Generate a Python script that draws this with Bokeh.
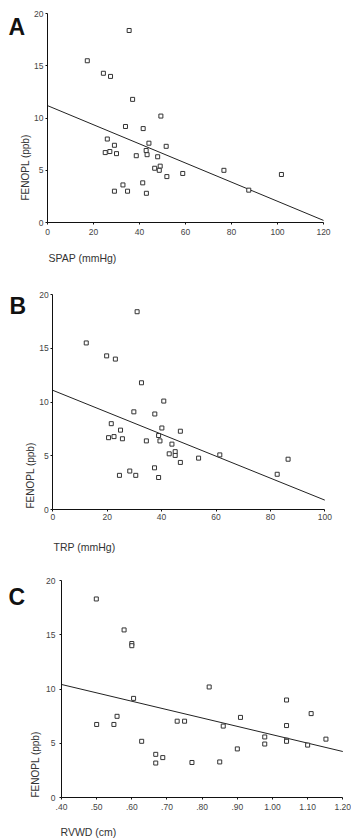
from bokeh.plotting import figure
from bokeh.layouts import column
from bokeh.models import Range1d, FixedTicker, Label
from bokeh.embed import file_html
from bokeh.resources import INLINE
import math

# ---------------- data ----------------
y_ticks = [0, 5, 10, 15, 20]

# Panel A: SPAP (mmHg) vs FENOPL (ppb)
a_x = [17.3, 35.5, 24.3, 27.4, 37.0, 49.3, 33.9, 41.6, 26.0, 44.1, 29.1, 51.6,
       25.1, 27.1, 30.0, 38.6, 42.9, 43.3, 47.9, 46.6, 49.0, 48.6, 51.9, 32.8,
       41.4, 29.1, 34.8, 43.0, 58.8, 76.7, 87.5, 101.7]
a_y = [15.5, 18.4, 14.3, 14.0, 11.8, 10.2, 9.2, 9.0, 8.0, 7.6, 7.4, 7.3,
       6.7, 6.8, 6.6, 6.4, 6.9, 6.5, 6.3, 5.2, 5.4, 5.0, 4.4, 3.6,
       3.8, 3.0, 3.0, 2.8, 4.7, 5.0, 3.1, 4.6]
a_fit_x = [0, 120]
a_fit_y = [11.2, 0.2]
a_xticks = [0, 20, 40, 60, 80, 100, 120]

# Panel B: TRP (mmHg) vs FENOPL (ppb)
b_x = [12.3, 31.0, 19.8, 23.0, 32.6, 40.8, 29.8, 37.5, 21.5, 24.9, 40.1, 20.5,
       22.5, 25.6, 34.4, 38.9, 39.4, 43.8, 42.8, 45.0, 45.0, 24.5, 28.3, 30.5,
       37.4, 38.9, 46.9, 46.9, 53.6, 61.4, 82.5, 86.5]
b_y = [15.5, 18.4, 14.3, 14.0, 11.8, 10.1, 9.1, 8.9, 8.0, 7.4, 7.6, 6.7,
       6.8, 6.6, 6.4, 6.9, 6.4, 6.1, 5.2, 5.4, 5.05, 3.2, 3.6, 3.2,
       3.9, 3.0, 7.3, 4.4, 4.8, 5.1, 3.3, 4.7]
b_fit_x = [0, 100]
b_fit_y = [11.1, 0.9]
b_xticks = [0, 20, 40, 60, 80, 100]

# Panel C: RVWD (cm) vs FENOPL (ppb)
c_x = [0.499, 0.578, 0.600, 0.600, 0.605, 0.500, 0.549, 0.558, 0.628, 0.668,
       0.688, 0.668, 0.729, 0.750, 0.771, 0.820, 0.860, 0.850, 0.909, 0.900,
       0.978, 0.978, 1.040, 1.040, 1.040, 1.040, 1.100, 1.110, 1.152]
c_y = [18.3, 15.45, 14.2, 14.0, 9.15, 6.75, 6.75, 7.5, 5.2, 4.0,
       3.7, 3.2, 7.05, 7.05, 3.25, 10.2, 6.6, 3.3, 7.4, 4.5,
       5.6, 4.95, 9.0, 6.65, 5.3, 5.2, 4.85, 7.75, 5.4]
c_fit_x = [0.40, 1.20]
c_fit_y = [10.43, 4.26]
c_xticks = [0.4, 0.5, 0.6, 0.7, 0.8, 0.9, 1.0, 1.1, 1.2]
c_xlabels = [".40", ".50", ".60", ".70", ".80", ".90", "1.00", "1.10", "1.20"]

FONT = "Liberation Sans"
PAGE_LEFT = 0


def panel(xs, ys, fx, fy, xb, xticks, xlabels, letter, xlab,
          W, H, page_top, ox, px1, oy, py1, xstand, ystand,
          letter_pos, xlab_pos, ylab_pos):
    # map axis geometry (page pixels) to data ranges covering the whole canvas
    x0, x1 = xb
    sx = (px1 - ox) / (x1 - x0)
    sy = (oy - py1) / 20.0
    xr = Range1d(x0 + (PAGE_LEFT - ox) / sx, x0 + (PAGE_LEFT + W - ox) / sx)
    yr = Range1d((oy - (page_top + H)) / sy, (oy - page_top) / sy)

    p = figure(width=W, height=H, x_range=xr, y_range=yr,
               output_backend="svg", toolbar_location=None, min_border=0)
    p.outline_line_color = None
    p.grid.visible = False
    p.background_fill_color = "white"
    p.border_fill_color = "white"

    p.xaxis.fixed_location = 0
    p.yaxis.fixed_location = x0
    p.xaxis.bounds = (x0, x1)
    p.yaxis.bounds = (0, 20)
    for ax in (p.xaxis[0], p.yaxis[0]):
        ax.axis_line_color = "#111111"
        ax.axis_line_width = 1
        ax.major_tick_line_color = "#111111"
        ax.major_tick_in = 0
        ax.major_tick_out = 2
        ax.minor_tick_line_color = None
        ax.major_label_text_font = FONT
        ax.major_label_text_font_size = "8.5px"
        ax.major_label_text_color = "#444444"
    p.xaxis.ticker = FixedTicker(ticks=xticks)
    p.yaxis.ticker = FixedTicker(ticks=y_ticks)
    p.xaxis.major_label_standoff = xstand
    p.yaxis.major_label_standoff = ystand
    if xlabels is not None:
        p.xaxis.major_label_overrides = {t: l for t, l in zip(xticks, xlabels)}

    p.line(fx, fy, line_color="#222222", line_width=1)
    p.scatter(xs, ys, marker="square", size=4, line_color="#333333",
              fill_color="white", line_width=1)

    p.add_layout(Label(x=letter_pos[0], y=letter_pos[1], x_units="screen",
                       y_units="screen", text=letter, text_font=FONT,
                       text_font_size="23px", text_font_style="bold",
                       text_color="#111111", text_baseline="alphabetic"))
    p.add_layout(Label(x=xlab_pos[0], y=xlab_pos[1], x_units="screen",
                       y_units="screen", text=xlab, text_font=FONT,
                       text_font_size="10.5px", text_color="#333333",
                       text_baseline="alphabetic"))
    p.add_layout(Label(x=ylab_pos[0], y=ylab_pos[1], x_units="screen",
                       y_units="screen", text="FENOPL (ppb)", text_font=FONT,
                       text_font_size="10px", text_color="#333333",
                       text_baseline="middle", text_align="left",
                       angle=math.pi / 2))
    return p


pa = panel(a_x, a_y, a_fit_x, a_fit_y, (0, 120), a_xticks, None, "A", "SPAP  (mmHg)",
           W=351, H=270, page_top=0, ox=47, px1=323, oy=222, py1=13.3,
           xstand=4, ystand=2,
           letter_pos=(8, 244), xlab_pos=(48, 13), ylab_pos=(24.5, 70))
pb = panel(b_x, b_y, b_fit_x, b_fit_y, (0, 100), b_xticks, None, "B", "TRP (mmHg)",
           W=351, H=290, page_top=270, ox=52.3, px1=324.3, oy=509.3, py1=294,
           xstand=2, ystand=2,
           letter_pos=(9, 255), xlab_pos=(53, 14), ylab_pos=(29.5, 52))
pc = panel(c_x, c_y, c_fit_x, c_fit_y, (0.4, 1.2), c_xticks, c_xlabels, "C", "RVWD (cm)",
           W=351, H=278, page_top=560, ox=61, px1=342.3, oy=797.3, py1=580,
           xstand=4, ystand=4,
           letter_pos=(8, 242), xlab_pos=(60, 7), ylab_pos=(34.5, 41))

layout = column(pa, pb, pc)
open("out.html", "w").write(file_html(layout, INLINE))
